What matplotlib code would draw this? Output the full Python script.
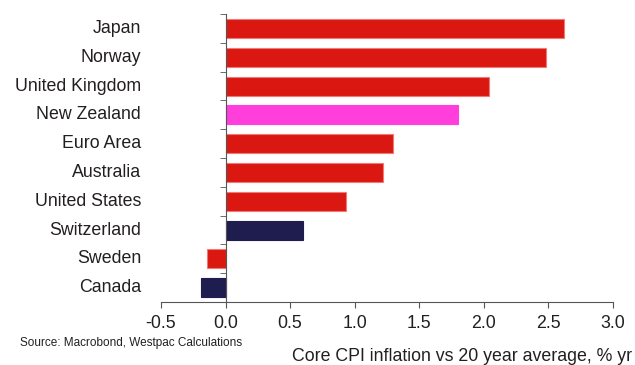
import numpy as np
import matplotlib.pyplot as plt
import matplotlib.transforms as mtransforms

plt.rcParams['font.family'] = ['Liberation Sans', 'DejaVu Sans']

countries = ['Japan', 'Norway', 'United Kingdom', 'New Zealand', 'Euro Area',
             'Australia', 'United States', 'Switzerland', 'Sweden', 'Canada']
values = [2.62, 2.48, 2.04, 1.80, 1.30, 1.22, 0.93, 0.60, -0.14, -0.19]
groups = ['r', 'r', 'r', 'nz', 'r', 'r', 'r', 'n', 'r', 'n']
xticks = [-0.5, 0.0, 0.5, 1.0, 1.5, 2.0, 2.5, 3.0]

palette = {'r': '#DA1710', 'nz': '#FF3EDC', 'n': '#1F1C4F'}
edges = {'r': '#F07A75', 'nz': '#FF3EDC', 'n': '#1F1C4F'}
txt = '#231F20'
fs = 12.8

fig = plt.figure(figsize=(6.35, 3.65), dpi=100)
ax = fig.add_axes([0.2535, 0.1726, 0.7115, 0.789])

y = np.arange(len(countries))
ax.barh(y, values, height=0.66,
        color=[palette[g] for g in groups],
        edgecolor=[edges[g] for g in groups], linewidth=0.8, zorder=2)

ax.set_ylim(len(countries) - 0.5, -0.5)
ax.set_xlim(-0.5, 3.0)

for s in ['top', 'right']:
    ax.spines[s].set_visible(False)
ax.spines['left'].set_position(('data', 0))
ax.spines['left'].set_color('#555555')
ax.spines['bottom'].set_color('#555555')

# category separators on the zero line
ax.set_yticks(y)
ax.set_yticklabels([])
ax.tick_params(axis='y', which='major', length=0)
ax.set_yticks(np.arange(-0.5, len(countries), 1), minor=True)
ax.tick_params(axis='y', which='minor', length=4, direction='out', color='#555555')

ax.set_xticks(xticks)
ax.set_xticklabels([f'{v:.1f}' for v in xticks])
ax.tick_params(axis='x', length=4, direction='out', pad=5, labelsize=fs,
               labelcolor=txt, color='#555555')

trans = mtransforms.blended_transform_factory(ax.transAxes, ax.transData)
for yi, name in zip(y, countries):
    ax.text(-0.044, yi, name, transform=trans, ha='right', va='center',
            fontsize=fs, color=txt)

fig.text(0.032, 0.06, 'Source: Macrobond, Westpac Calculations',
         ha='left', va='center', fontsize=8.5, color=txt)
fig.text(0.996, 0.022, 'Core CPI inflation vs 20 year average, % yr',
         ha='right', va='center', fontsize=fs, color=txt)

fig.savefig('out.png', dpi=100)
